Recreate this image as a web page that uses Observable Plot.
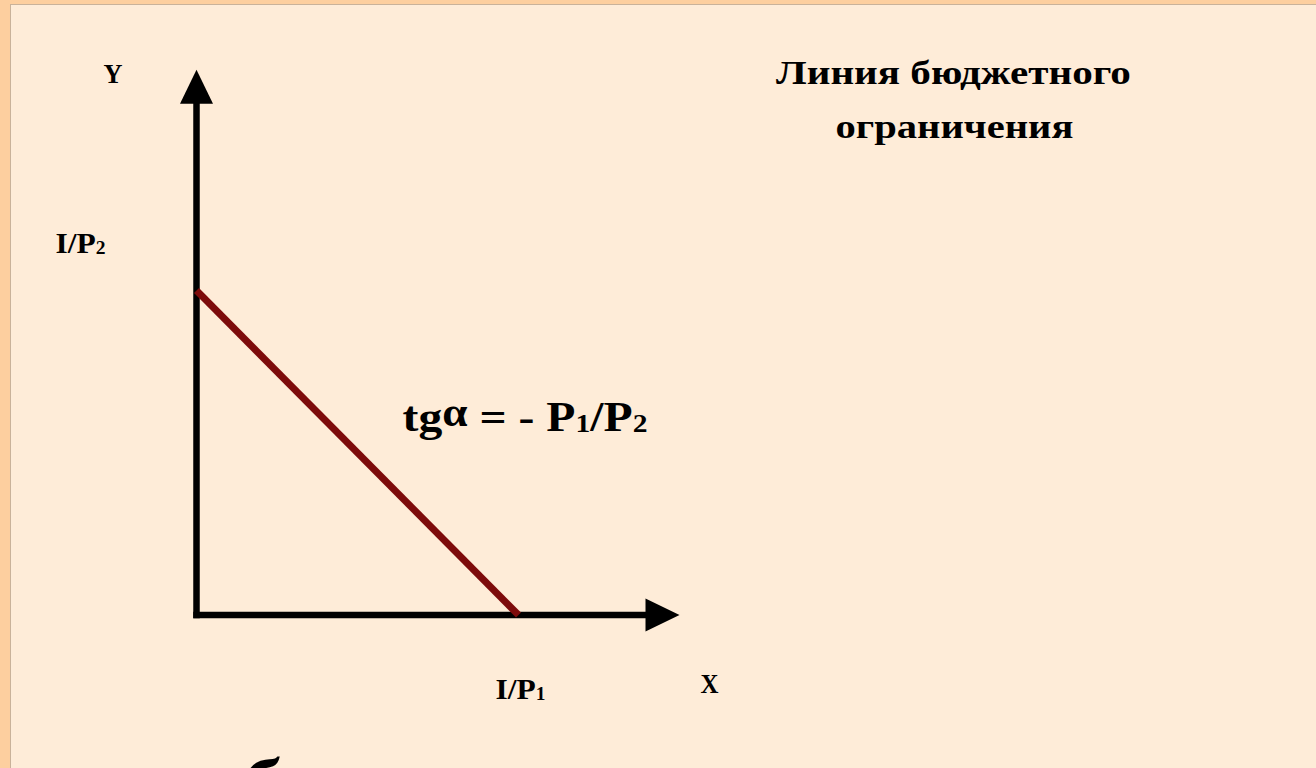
<!DOCTYPE html>
<html>
<head>
<meta charset="utf-8">
<script src="https://cdn.jsdelivr.net/npm/d3@7"></script>
<script src="https://cdn.jsdelivr.net/npm/@observablehq/plot@0.6"></script>
<style>
  html, body { margin: 0; padding: 0; width: 1316px; height: 768px; overflow: hidden; background: #fdcf9f; }
  #panel { position: absolute; left: 10px; top: 4px; width: 1306px; height: 764px; background: #feecd8;
           box-shadow: inset 1px 1px 0 #c9b29a; }
  #chart { position: absolute; left: 10px; top: 4px; }
  #chart svg { overflow: hidden; }
</style>
</head>
<body>
<div id="panel"></div>
<div id="chart"></div>
<script>
// ---- data (in diagram units) ----
const budgetX = [0, 10];            // I/P1 intercept on X
const budgetY = [10, 0];            // I/P2 intercept on Y
const axisTipX = 15;                // tip of the X-axis arrow
const axisTipY = 16.8;              // tip of the Y-axis arrow
const axisShaftX = 14.4;            // where the X shaft meets the arrowhead
const axisShaftY = 16.2;            // where the Y shaft meets the arrowhead
const axisNames = ["X", "Y"];
const interceptLabels = ["I/P₁", "I/P₂"];
const formulaText = "tgα = - P₁/P₂";
const titleLines = ["Линия бюджетного", "ограничения"];
const footText = "б";

const serif = "'Liberation Serif', 'Times New Roman', serif";

const budget = budgetX.map((x, i) => ({x, y: budgetY[i]}));
const shafts = [
  {x1: 0, y1: 0, x2: 0, y2: axisShaftY},
  {x1: 0, y1: 0, x2: axisShaftX, y2: 0}
];
const heads = [
  {x: 0, y: axisTipY, rotate: 0},
  {x: axisTipX, y: 0, rotate: 90}
];
const arrowHead = {
  draw(ctx) {
    ctx.moveTo(0, 0);
    ctx.lineTo(-16.5, 34);
    ctx.lineTo(16.5, 34);
    ctx.closePath();
  }
};

const bold = {fontFamily: serif, fontWeight: "bold", fill: "black", lineAnchor: "bottom"};

const chart = Plot.plot({
  width: 1306,
  height: 764,
  margin: 0,
  style: {background: "transparent", overflow: "hidden"},
  x: {domain: [0, 15], range: [186, 669], axis: null},
  y: {domain: [0, 17], range: [610.5, 58.85], axis: null},
  marks: [
    Plot.link(shafts, {x1: "x1", y1: "y1", x2: "x2", y2: "y2", stroke: "black", strokeWidth: 6.5, strokeLinecap: "square"}),
    Plot.dot(heads, {x: "x", y: "y", rotate: "rotate", symbol: arrowHead, r: 1, fill: "black", stroke: null}),
    Plot.line(budget, {x: "x", y: "y", stroke: "#7d0b0b", strokeWidth: 7, strokeLinecap: "butt"}),
    // axis names
    Plot.text([axisNames[1]], {...bold, x: () => 0, y: () => axisTipY, text: d => d, dx: -83.5, dy: 13,
      textAnchor: "middle", fontSize: 28}),
    Plot.text([axisNames[0]], {...bold, x: () => axisTipX, y: () => 0, text: d => d, dx: 30, dy: 77.5,
      textAnchor: "middle", fontSize: 28}),
    // intercept labels
    Plot.text([interceptLabels[1]], {...bold, x: () => 0, y: () => budgetY[0], text: d => d, dx: -141, dy: -38,
      textAnchor: "start", fontSize: 29}),
    Plot.text([interceptLabels[0]], {...bold, x: () => budgetX[1], y: () => 0, text: d => d, dx: -23, dy: 83.5,
      textAnchor: "start", fontSize: 29}),
    // slope formula near the middle of the budget line
    Plot.text([formulaText], {...bold, x: () => (budgetX[0] + budgetX[1]) / 2, y: () => (budgetY[0] + budgetY[1]) / 2,
      text: d => d, dx: 45, dy: -22, textAnchor: "start", fontSize: 42}),
    // title
    Plot.text([titleLines[0]], {...bold, frameAnchor: "top-left", text: d => d, dx: 943, dy: 79,
      textAnchor: "middle", fontSize: 33}),
    Plot.text([titleLines[1]], {...bold, frameAnchor: "top-left", text: d => d, dx: 944, dy: 133,
      textAnchor: "middle", fontSize: 33}),
    // partially visible letter at the bottom edge
    Plot.text([footText], {x: () => 0, y: () => 0, text: d => d, dx: 46, dy: 192,
      textAnchor: "start", lineAnchor: "bottom", fontFamily: serif, fontStyle: "italic", fontWeight: "bold", fontSize: 70, fill: "black"})
  ]
});
document.getElementById("chart").appendChild(chart);

// ---- typographic touch-ups: real subscripts, raised alpha, wide slide lettering ----
const targetWidth = new Map([
  [titleLines[0], 355], [titleLines[1], 238], [formulaText, 245],
  [interceptLabels[0], 50], [interceptLabels[1], 50], [axisNames[0], 18], [axisNames[1], 19],
  [footText, null]
]);
const subs = {"₁": "1", "₂": "2"};
const NS = "http://www.w3.org/2000/svg";
chart.querySelectorAll("text").forEach(t => {
  const original = t.textContent;
  if (/[₁₂α]/.test(original)) {
    t.textContent = "";
    let shift = 0;
    for (const ch of original) {
      const span = document.createElementNS(NS, "tspan");
      let want = 0;
      if (subs[ch]) { span.textContent = subs[ch]; span.setAttribute("font-size", "62%"); want = 1; }
      else if (ch === "α") { span.textContent = ch; span.setAttribute("font-size", "95%"); want = -5; }
      else { span.textContent = ch; }
      if (want !== shift) { span.setAttribute("dy", want - shift); shift = want; }
      t.appendChild(span);
    }
  }
  const w = targetWidth.get(original);
  if (!w) return;
  const box = t.getBBox();
  const s = w / box.width;
  const anchor = getComputedStyle(t).textAnchor;
  const cx = anchor === "middle" ? box.x + box.width / 2 : anchor === "end" ? box.x + box.width : box.x;
  const prev = t.getAttribute("transform") || "";
  t.setAttribute("transform", `${prev} translate(${cx},0) scale(${s},1) translate(${-cx},0)`);
});
</script>
</body>
</html>
